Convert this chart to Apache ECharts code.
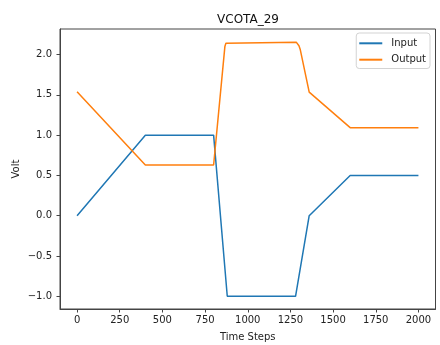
<!DOCTYPE html>
<html>
<head>
<meta charset="utf-8">
<script src="https://cdn.jsdelivr.net/npm/echarts@6/dist/echarts.min.js"></script>
<style>
  html, body { margin: 0; padding: 0; background: #fff; }
  #chart { width: 440px; height: 345px; }
</style>
</head>
<body>
<div id="chart"></div>
<script>
// Breakpoints of the two traces (time step, volt)
const inputSteps  = [0, 400, 800, 880, 1280, 1360, 1600, 2000];
const inputVolts  = [0.0, 1.0, 1.0, -1.0, -1.0, 0.0, 0.5, 0.5];

const outputSteps = [0, 400, 800, 866, 872, 880, 1284, 1292, 1300, 1308, 1360, 1600, 2000];
const outputVolts = [1.54, 0.63, 0.63, 2.10, 2.14, 2.155, 2.155, 2.14, 2.11, 2.06, 1.535, 1.093, 1.093];

const xTicks = [0, 250, 500, 750, 1000, 1250, 1500, 1750, 2000];
const yTicks = [-1.0, -0.5, 0.0, 0.5, 1.0, 1.5, 2.0];

const seriesNames = ['Input', 'Output'];
const seriesColors = ['#1f77b4', '#ff7f0e'];

const FONT = 'DejaVu Sans';
const AXIS_COLOR = '#444';
const TEXT_COLOR = '#222';

const pairs = (xs, ys) => xs.map((x, i) => [x, ys[i]]);
const minus = s => s.replace('-', '\u2212');

const chart = echarts.init(document.getElementById('chart'), null, { renderer: 'canvas' });

chart.setOption({
  animation: false,
  backgroundColor: '#fff',
  textStyle: { fontFamily: FONT },
  title: {
    text: 'VCOTA_29',
    left: 248,
    top: 14,
    padding: 0,
    textAlign: 'center',
    textStyle: { fontFamily: FONT, fontSize: 12, fontWeight: 'normal', color: '#111' }
  },
  legend: {
    orient: 'vertical',
    right: 10,
    top: 33,
    padding: [5.3, 4, 3.8, 3],
    itemGap: 6.4,
    itemWidth: 23,
    itemHeight: 2,
    icon: 'rect',
    borderColor: '#d3d3d3',
    borderWidth: 1,
    borderRadius: 3,
    backgroundColor: 'rgba(255,255,255,0.8)',
    textStyle: { fontFamily: FONT, fontSize: 10, color: TEXT_COLOR, padding: [0, 0, 0, 4] },
    data: seriesNames
  },
  grid: {
    left: 60, right: 4.5, top: 29, bottom: 36,
    outerBoundsMode: 'none',
    containLabel: false,
    show: true, borderColor: AXIS_COLOR, borderWidth: 1, backgroundColor: 'transparent'
  },
  xAxis: {
    type: 'value',
    min: -100,
    max: 2100,
    name: 'Time Steps',
    nameLocation: 'middle',
    nameGap: 23,
    nameMoveOverlap: false,
    nameTextStyle: { fontFamily: FONT, fontSize: 10, color: TEXT_COLOR },
    splitLine: { show: false },
    axisLine: { show: true, onZero: false, lineStyle: { color: AXIS_COLOR, width: 1 } },
    axisTick: { show: true, inside: false, length: 3.5, customValues: xTicks, lineStyle: { color: AXIS_COLOR } },
    axisLabel: {
      customValues: xTicks, margin: 6.5, fontFamily: FONT, fontSize: 10, color: TEXT_COLOR,
      formatter: v => String(v)
    }
  },
  yAxis: {
    type: 'value',
    min: -1.158,
    max: 2.318,
    name: 'Volt',
    nameLocation: 'middle',
    nameGap: 39,
    nameMoveOverlap: false,
    nameTextStyle: { fontFamily: FONT, fontSize: 10, color: TEXT_COLOR },
    splitLine: { show: false },
    axisLine: { show: true, onZero: false, lineStyle: { color: AXIS_COLOR, width: 1 } },
    axisTick: { show: true, inside: false, length: 3.5, customValues: yTicks, lineStyle: { color: AXIS_COLOR } },
    axisLabel: {
      customValues: yTicks, margin: 8, fontFamily: FONT, fontSize: 10, color: TEXT_COLOR,
      formatter: v => minus(v.toFixed(1))
    }
  },
  series: [
    {
      name: seriesNames[0], type: 'line', showSymbol: false, symbol: 'none',
      data: pairs(inputSteps, inputVolts),
      lineStyle: { color: seriesColors[0], width: 1.5 }, itemStyle: { color: seriesColors[0] }
    },
    {
      name: seriesNames[1], type: 'line', showSymbol: false, symbol: 'none',
      data: pairs(outputSteps, outputVolts),
      lineStyle: { color: seriesColors[1], width: 1.5 }, itemStyle: { color: seriesColors[1] }
    }
  ]
});
</script>
</body>
</html>
